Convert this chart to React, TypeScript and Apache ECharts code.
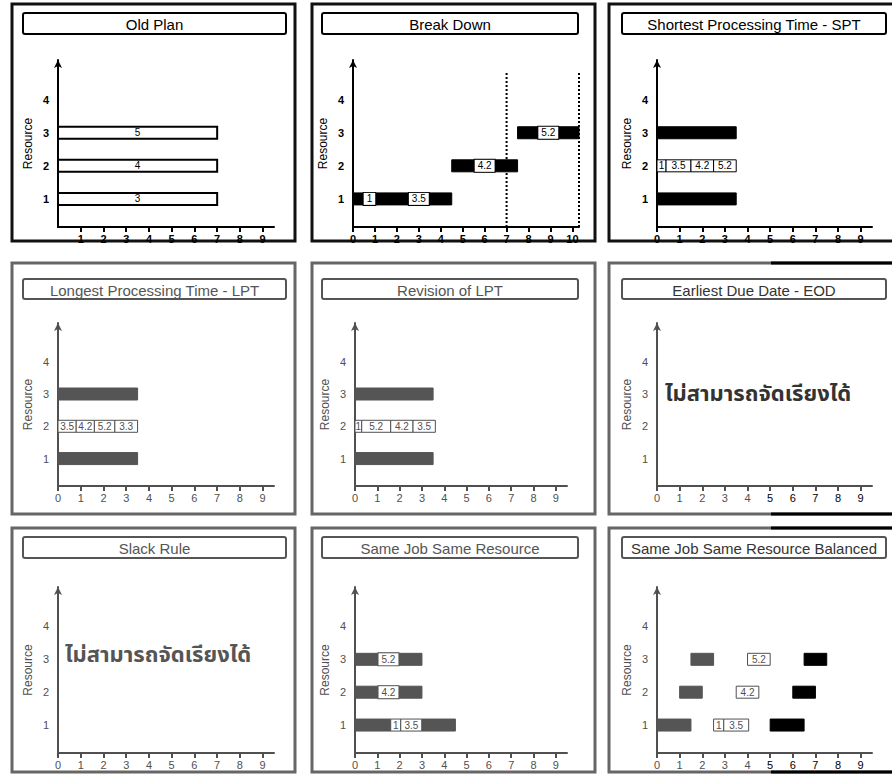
import React, { useEffect, useRef } from "react";
import * as echarts from "echarts";

type Seg = [number, number, number, string, string];

// ---------- data ----------
const panelTitles = [
  "Old Plan",
  "Break Down",
  "Shortest Processing Time - SPT",
  "Longest Processing Time - LPT",
  "Revision of LPT",
  "Earliest Due Date - EOD",
  "Slack Rule",
  "Same Job Same Resource",
  "Same Job Same Resource Balanced",
];

const resourceTicks = [1, 2, 3, 4];
const timeTicks = [0, 1, 2, 3, 4, 5, 6, 7, 8, 9];
const timeTicksOldPlan = [1, 2, 3, 4, 5, 6, 7, 8, 9];
const timeTicksBreakDown = [0, 1, 2, 3, 4, 5, 6, 7, 8, 9, 10];

// [resource, start, end, label, kind]
const oldPlan: Seg[] = [
  [1, 0, 7, "3", "outline"],
  [2, 0, 7, "4", "outline"],
  [3, 0, 7, "5", "outline"],
];
const breakDown: Seg[] = [
  [1, 0, 1.5, "1", "black"],
  [1, 1.5, 4.5, "3.5", "black"],
  [2, 4.5, 7.5, "4.2", "black"],
  [3, 7.5, 10.3, "5.2", "black"],
];
const breakDownLimits = [7, 10.3];
const spt: Seg[] = [
  [1, 0, 3.5, "", "black"],
  [2, 0, 0.4, "1", "box"],
  [2, 0.4, 1.5, "3.5", "box"],
  [2, 1.5, 2.5, "4.2", "box"],
  [2, 2.5, 3.5, "5.2", "box"],
  [3, 0, 3.5, "", "black"],
];
const lpt: Seg[] = [
  [1, 0, 3.5, "", "gray"],
  [2, 0, 0.8, "3.5", "box"],
  [2, 0.8, 1.6, "4.2", "box"],
  [2, 1.6, 2.5, "5.2", "box"],
  [2, 2.5, 3.5, "3.3", "box"],
  [3, 0, 3.5, "", "gray"],
];
const revisionLpt: Seg[] = [
  [1, 0, 3.5, "", "gray"],
  [2, 0, 0.3, "1", "box"],
  [2, 0.3, 1.6, "5.2", "box"],
  [2, 1.6, 2.6, "4.2", "box"],
  [2, 2.6, 3.6, "3.5", "box"],
  [3, 0, 3.5, "", "gray"],
];
const earliestDueDate: Seg[] = [];
const slackRule: Seg[] = [];
const sameJob: Seg[] = [
  [1, 0, 1.6, "", "gray"],
  [1, 1.6, 2.05, "1", "box"],
  [1, 2.05, 3.0, "3.5", "box"],
  [1, 3.0, 4.5, "", "gray"],
  [2, 0, 3, "4.2", "gray"],
  [3, 0, 3, "5.2", "gray"],
];
const balanced: Seg[] = [
  [1, 0, 1.5, "", "gray"],
  [1, 2.5, 2.95, "1", "box"],
  [1, 2.95, 4.05, "3.5", "box"],
  [1, 5, 6.5, "", "black"],
  [2, 1, 2, "", "gray"],
  [2, 3.5, 4.5, "4.2", "box"],
  [2, 6, 7, "", "black"],
  [3, 1.5, 2.5, "", "gray"],
  [3, 4, 5, "5.2", "box"],
  [3, 6.5, 7.5, "", "black"],
];
const noScheduleText = "ไม่สามารถจัดเรียงได้";

const panelData: Seg[][] = [
  oldPlan, breakDown, spt, lpt, revisionLpt, earliestDueDate, slackRule, sameJob, balanced,
];
const panelXMax = [9.5, 10.3, 9.5, 9.5, 9.5, 9.5, 9.5, 9.5, 9.5];
const panelXTicks = [
  timeTicksOldPlan, timeTicksBreakDown, timeTicks, timeTicks, timeTicks, timeTicks, timeTicks, timeTicks, timeTicks,
];

// ---------- layout ----------
const FONT = "'Liberation Sans', Arial, sans-serif";
const gridLeft = [58, 353, 657, 58, 355, 657, 58, 355, 657];
const gridWidth = [216, 226, 215, 216, 212, 215, 216, 212, 215];
const rowTop = [60, 323, 587];
const rowHeight = [167, 163, 166];
const colFrame = [[12, 295], [312, 595], [609, 900]];
const rowFrame = [[4, 241], [263, 514], [528, 772]];
const colTitle = [[23, 286], [322, 578], [622, 886]];
const rowTitle = [[13, 34], [279, 299], [537, 558]];

export default function App() {
  const ref = useRef<HTMLDivElement>(null);

  useEffect(() => {
    if (!ref.current) return;
    const chart = echarts.init(ref.current, undefined, { renderer: "svg" });

    const tone = (i: number) => (i < 3 ? "#000000" : "#505050");
    const grids: any[] = [];
    const xAxes: any[] = [];
    const yAxes: any[] = [];
    const series: any[] = [];
    const graphics: any[] = [];

    for (let i = 0; i < 9; i++) {
      const row = Math.floor(i / 3);
      const col = i % 3;
      const c = tone(i);
      const weight = row === 0 ? "bold" : "normal";
      grids.push({ left: gridLeft[i], width: gridWidth[i], top: rowTop[row], height: rowHeight[row] });
      const darkRight = i === 5 || i === 8;
      xAxes.push({
        gridIndex: i,
        type: "value",
        min: 0,
        max: panelXMax[i],
        axisLine: { show: true, onZero: false, lineStyle: { color: c, width: 2 } },
        axisTick: { show: true, customValues: panelXTicks[i], length: 5, lineStyle: { color: c, width: 2 } },
        axisLabel: {
          customValues: panelXTicks[i],
          fontSize: 11,
          fontFamily: FONT,
          fontWeight: weight,
          margin: 6,
          color: darkRight ? (v: any) => (Number(v) >= 5 ? "#000000" : c) : c,
        },
        splitLine: { show: false },
      });
      yAxes.push({
        gridIndex: i,
        type: "value",
        min: 0.15,
        max: 5.2,
        name: "Resource",
        nameLocation: "middle",
        nameGap: 24,
        nameRotate: 90,
        nameTextStyle: { fontSize: 12, color: c, fontFamily: FONT },
        axisLine: {
          show: true,
          onZero: false,
          symbol: ["none", "arrow"],
          symbolSize: [6, 8],
          lineStyle: { color: c, width: 2 },
        },
        axisTick: { show: false },
        axisLabel: {
          customValues: resourceTicks,
          fontSize: 11,
          fontFamily: FONT,
          fontWeight: weight,
          color: c,
          margin: 9,
        },
        splitLine: { show: false },
      });

      const segs = panelData[i];
      const grayBar = "#555555";
      series.push({
        type: "custom",
        xAxisIndex: i,
        yAxisIndex: i,
        encode: { x: [1, 2], y: 0 },
        data: segs.map((s) => [s[0], s[1], s[2]]),
        renderItem: (params: any, api: any) => {
          const seg = segs[params.dataIndex];
          const a = api.coord([api.value(1), api.value(0)]);
          const b = api.coord([api.value(2), api.value(0)]);
          const h = 12;
          const kind = seg[4];
          const fill = kind === "black" ? "#000" : kind === "gray" ? grayBar : "#fff";
          const stroke = kind === "outline" ? "#000" : kind === "box" ? c : fill;
          const children: any[] = [
            {
              type: "rect",
              shape: { x: a[0], y: a[1] - h / 2, width: b[0] - a[0], height: h },
              style: { fill, stroke, lineWidth: kind === "outline" ? 2 : 1 },
            },
          ];
          if (seg[3]) {
            const boxed = kind === "black" || kind === "gray";
            children.push({
              type: "text",
              x: (a[0] + b[0]) / 2,
              y: a[1],
              style: {
                text: seg[3],
                fill: kind === "outline" ? "#000" : c,
                font: `10px ${FONT}`,
                align: "center",
                verticalAlign: "middle",
                backgroundColor: boxed ? "#fff" : undefined,
                borderColor: boxed ? fill : undefined,
                borderWidth: boxed ? 1 : 0,
                padding: boxed ? [1, 3] : 0,
              },
            });
          }
          return { type: "group", children };
        },
      });

      // frame
      graphics.push({
        type: "rect",
        shape: {
          x: colFrame[col][0],
          y: rowFrame[row][0],
          width: colFrame[col][1] - colFrame[col][0],
          height: rowFrame[row][1] - rowFrame[row][0],
        },
        style: { fill: "transparent", stroke: row === 0 ? "#111" : "#666", lineWidth: 3 },
        z: 0,
      });
      // title box
      graphics.push({
        type: "rect",
        shape: {
          x: colTitle[col][0],
          y: rowTitle[row][0],
          width: colTitle[col][1] - colTitle[col][0],
          height: rowTitle[row][1] - rowTitle[row][0],
          r: 2,
        },
        style: { fill: "#fff", stroke: row === 0 ? "#000" : "#555", lineWidth: 2 },
        z: 1,
      });
      graphics.push({
        type: "text",
        x: (colTitle[col][0] + colTitle[col][1]) / 2,
        y: (rowTitle[row][0] + rowTitle[row][1]) / 2 + 1,
        style: {
          text: panelTitles[i],
          font: `15px ${FONT}`,
          fill: row === 0 ? "#000" : col === 2 ? "#333" : "#555",
          align: "center",
          verticalAlign: "middle",
        },
        z: 2,
      });
    }

    // dark right part of scanned panels (col 3, rows 2-3)
    for (const row of [1, 2]) {
      graphics.push({
        type: "line",
        shape: { x1: 771, y1: rowFrame[row][0], x2: 892, y2: rowFrame[row][0] },
        style: { stroke: "#000", lineWidth: 3 },
        z: 3,
      });
      graphics.push({
        type: "line",
        shape: { x1: 771, y1: rowFrame[row][1], x2: 892, y2: rowFrame[row][1] },
        style: { stroke: "#000", lineWidth: 3 },
        z: 3,
      });
    }

    // break down limits (dotted lines)
    breakDownLimits.forEach((x) => {
      series.push({
        type: "line",
        xAxisIndex: 1,
        yAxisIndex: 1,
        data: [[x, 0.15], [x, 4.85]],
        symbol: "none",
        lineStyle: { color: "#000", width: 2, type: [2, 2] },
        silent: true,
      });
    });

    // "cannot be scheduled" texts
    graphics.push({
      type: "text",
      x: 758,
      y: 394,
      style: {
        text: noScheduleText,
        font: `bold 22px 'Noto Sans Thai', 'Noto Sans', 'DejaVu Sans', sans-serif`,
        fill: "#333",
        align: "center",
        verticalAlign: "middle",
      },
      z: 5,
    });
    graphics.push({
      type: "text",
      x: 158,
      y: 655,
      style: {
        text: noScheduleText,
        font: `bold 22px 'Noto Sans Thai', 'Noto Sans', 'DejaVu Sans', sans-serif`,
        fill: "#555",
        align: "center",
        verticalAlign: "middle",
      },
      z: 5,
    });

    chart.setOption({
      animation: false,
      backgroundColor: "#fff",
      grid: grids,
      xAxis: xAxes,
      yAxis: yAxes,
      series,
      graphic: { elements: graphics },
    });

    return () => chart.dispose();
  }, []);

  return (
    <div
      ref={ref}
      style={{ position: "fixed", left: 0, top: 0, width: 892, height: 778, background: "#fff" }}
    />
  );
}
